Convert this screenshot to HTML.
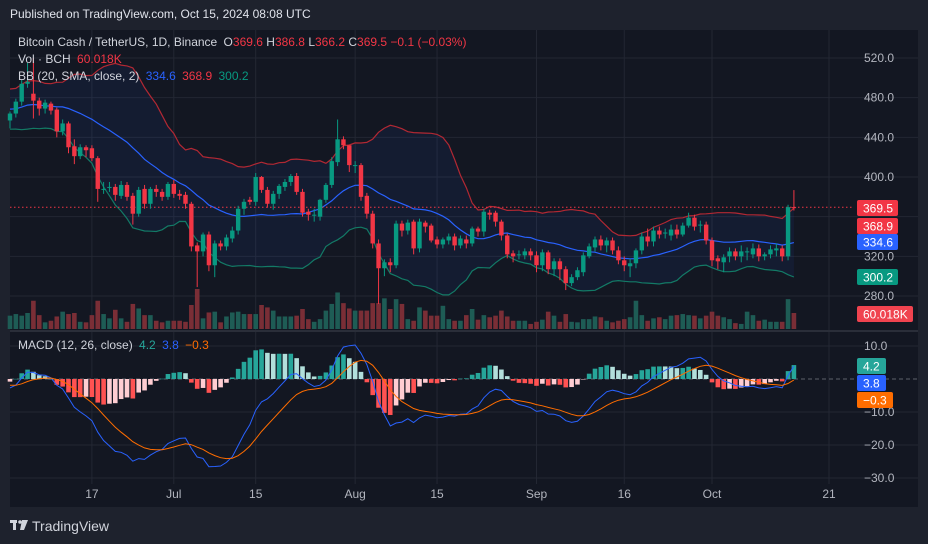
<!DOCTYPE html>
<html><head><meta charset="utf-8"><style>
html,body{margin:0;padding:0;background:#1e222d;width:928px;height:544px;overflow:hidden;font-family:"Liberation Sans",sans-serif}
svg{position:absolute;left:0;top:0}
</style></head><body>
<svg id="c" width="928" height="544">
<rect x="0" y="0" width="928" height="544" fill="#1e222d"/>
<rect x="10" y="30" width="908" height="477" fill="#131722"/>
<text x="10" y="18" fill="#e0e3eb" font-size="12">Published on TradingView.com, Oct 15, 2024 08:08 UTC</text>
<g id="grid"></g><g id="bb"></g><g id="vol"></g><g id="candles"></g><g id="macd"></g><g id="axes"></g>
<line x1="10" y1="331" x2="918" y2="331" stroke="#2a2e39" stroke-width="2"/>
<text x="18" y="46" font-size="12" fill="#d1d4dc">Bitcoin Cash / TetherUS, 1D, Binance <tspan dx="3">O</tspan><tspan fill="#f23645">369.6</tspan> <tspan>H</tspan><tspan fill="#f23645">386.8</tspan> <tspan>L</tspan><tspan fill="#f23645">366.2</tspan> <tspan>C</tspan><tspan fill="#f23645">369.5</tspan> <tspan fill="#f23645">−0.1 (−0.03%)</tspan></text>
<text x="18" y="63" font-size="12" fill="#d1d4dc">Vol · BCH <tspan fill="#f23645" dx="3">60.018K</tspan></text>
<text x="18" y="80" font-size="12" fill="#d1d4dc">BB (20, SMA, close, 2) <tspan fill="#2962ff" dx="3">334.6</tspan> <tspan fill="#f23645" dx="3">368.9</tspan> <tspan fill="#089981" dx="3">300.2</tspan></text>
<text x="18" y="349" font-size="12" fill="#d1d4dc">MACD (12, 26, close) <tspan fill="#26a69a" dx="3">4.2</tspan> <tspan fill="#2962ff" dx="3">3.8</tspan> <tspan fill="#ff6d00" dx="3">−0.3</tspan></text>
<g>
<rect x="10" y="520" width="7" height="3" fill="#d1d4dc"/><rect x="13" y="520" width="3" height="10" fill="#d1d4dc"/>
<circle cx="20" cy="522" r="1.8" fill="#d1d4dc"/><path d="M22 520 L28 520 L24 530 L20 530 Z" fill="#d1d4dc"/>
<text x="32" y="531" font-size="14" fill="#d1d4dc">TradingView</text></g>
</svg>
<script>
const priorCloses=[470,485,500,495,480,465,470,490,505,500,485,470,460,455,465,480,490,475,460,455,462,470,480,488,478,468,460,458,462,470];
const opens=[457,464,476,494,484,477,469,474,468,446,454,431,421,430,429,419,388,390,390,381,392,381,363,388,373,388,385,380,393,383,382,373,331,325,342,311,333,330,338,346,368,377,375,400,387,373,383,390,395,401,385,365,362,360,377,392,415,438,432,412,412,381,363,333,308,314,311,353,346,355,328,354,351,337,332,336,340,331,337,333,348,345,364,364,355,341,323,322,321,325,321,311,324,307,315,307,293,299,304,320,329,337,331,336,326,316,310,313,326,340,335,346,344,341,347,342,351,359,352,352,336,318,314,320,325,320,325,322,328,320,322,326,328,320,369.6];
const closes=[464,476,494,496,477,469,475,467,446,454,430,421,430,427,419,388,388,390,382,392,380,363,387,373,388,385,380,393,383,381,373,330,325,342,311,333,330,339,346,368,375,375,400,387,373,383,391,395,401,385,364,362,362,377,392,416,438,432,412,412,380,363,333,308,314,311,353,346,354,328,355,350,336,332,337,340,331,338,333,348,345,365,362,355,341,322,320,322,325,321,311,324,307,315,307,293,299,306,321,330,337,331,336,326,316,311,313,326,340,335,346,342,344,347,342,351,359,350,352,336,316,315,319,325,320,325,325,328,320,322,327,328,320,369.6,369.5];
const highs=[466,479,498,515,520,480,478,476,470,458,456,438,433,432,432,421,395,395,393,396,395,384,390,392,390,392,388,395,397,387,385,375,334,344,345,336,336,342,350,371,378,380,404,401,390,386,393,398,403,404,388,368,368,378,394,420,458,441,422,416,414,384,366,337,317,318,356,356,357,357,358,356,353,340,339,343,343,341,341,350,350,368,367,366,357,343,326,326,328,328,325,327,326,318,318,310,302,309,324,333,340,341,339,339,330,320,318,328,344,348,350,350,348,352,352,354,364,362,356,355,339,321,322,329,328,331,329,333,332,324,331,333,331,372,386.8];
const lows=[449,460,472,490,459,462,464,463,440,442,424,413,418,420,416,375,383,385,376,378,376,352,360,368,368,380,376,377,379,377,368,325,289,320,305,299,326,326,334,342,362,372,371,384,369,367,378,386,391,382,360,356,355,356,374,389,411,428,405,404,376,358,328,272,300,304,308,340,342,322,324,344,334,328,328,332,326,328,328,330,340,340,357,350,336,318,314,317,317,316,304,305,302,300,296,286,290,296,300,318,325,326,324,322,312,305,299,308,322,330,330,338,338,336,338,340,349,346,344,332,310,307,304,314,316,314,316,318,315,316,318,320,315,316,366.2];
const volumes=[50,56,50,60,106,52,25,31,47,65,56,60,27,25,52,106,56,40,72,40,27,94,77,52,52,31,25,31,31,31,27,90,150,40,62,65,25,47,62,65,56,56,56,90,81,69,47,47,47,50,75,37,27,37,69,94,137,97,77,69,69,69,97,97,115,75,112,94,37,31,81,69,50,50,87,37,31,31,52,75,35,52,44,50,69,47,31,31,31,19,27,35,65,50,27,56,27,25,37,37,47,44,31,25,31,37,44,106,52,31,40,44,37,50,52,56,52,50,40,50,65,50,44,37,22,19,65,52,31,35,27,27,27,112,60.018];
const priceTicks=[520,480,440,400,360,320,280];
const priceTickLabels=["520.0","480.0","440.0","400.0",null,"320.0","280.0"];
const macdTicks=[10,-10,-20,-30];
const dateIdx=[14,28,42,59,73,90,105,120,140];
const dateLabels=["17","Jul","15","Aug","15","Sep","16","Oct","21"];

const NS="http://www.w3.org/2000/svg";
const X=i=>10+i*5.85;
const Y=p=>58+(520-p)*0.9917;
const VY=v=>329-v/3.75;
const MY=m=>379-m*3.3;
function mk(tag,attrs,parent){const e=document.createElementNS(NS,tag);for(const k in attrs)e.setAttribute(k,attrs[k]);parent.appendChild(e);return e;}
const G=id=>document.getElementById(id);

const grid=G('grid');
priceTicks.forEach(p=>{const l=mk('line',{x1:10,x2:918,y1:Y(p),y2:Y(p),stroke:'#232733'},grid);

});
macdTicks.forEach(m=>{const l=mk('line',{x1:10,x2:918,y1:MY(m),y2:MY(m),stroke:'#232733'},grid);

});
dateIdx.forEach(i=>{const l=mk('line',{x1:X(i),x2:X(i),y1:30,y2:484,stroke:'#232733'},grid);

});
{const l=mk('line',{x1:10,x2:918,y1:MY(0),y2:MY(0),stroke:'#5d606b','stroke-dasharray':'4 3'},grid);

}

const all=priorCloses.concat(closes);const P=priorCloses.length;
const up=[],mid=[],lo=[];
for(let k=P;k<all.length;k++){const w=all.slice(k-19,k+1);const m=w.reduce((a,b)=>a+b,0)/20;const sd=Math.sqrt(w.reduce((a,b)=>a+(b-m)*(b-m),0)/20);mid.push(m);up.push(m+2*sd);lo.push(m-2*sd);}
const bb=G('bb');
const pts=a=>a.map((v,i)=>X(i).toFixed(1)+','+Y(v).toFixed(1));
{const f=mk('polygon',{points:pts(up).concat(pts(lo).reverse()).join(' '),fill:'rgba(41,98,255,0.07)'},bb);

}
[[up,'#b22833','bb-upper'],[mid,'#2962ff','bb-basis'],[lo,'#137a66','bb-lower']].forEach(([a,c,n])=>{const l=mk('polyline',{points:pts(a).join(' '),fill:'none',stroke:c,'stroke-width':1.2},bb);

});

{const l=mk('line',{x1:10,x2:852,y1:Y(369.5),y2:Y(369.5),stroke:'#f23645','stroke-dasharray':'1.5 2.5'},bb);

}

const vol=G('vol');
volumes.forEach((v,i)=>{const g=closes[i]>=opens[i];const r=mk('rect',{x:X(i)-2.3,y:VY(v),width:4.6,height:329-VY(v),fill:g?'#1e5c55':'#7a2e36'},vol);

});

const cg=G('candles');
closes.forEach((c,i)=>{const o=opens[i];const g=c>=o;const col=g?'#089981':'#f23645';
const w=mk('line',{x1:X(i),x2:X(i),y1:Y(highs[i]),y2:Y(lows[i]),stroke:col,'stroke-width':1},cg);


const t=Y(Math.max(o,c)),b=Y(Math.min(o,c));
const r=mk('rect',{x:X(i)-2.2,y:t,width:4.4,height:Math.max(1,b-t),fill:col},cg);

});

const ema=(a,n)=>{const k=2/(n+1);const o=[a[0]];for(let i=1;i<a.length;i++)o.push(a[i]*k+o[i-1]*(1-k));return o;};
const e12=ema(all,12),e26=ema(all,26);const macdAll=e12.map((v,i)=>v-e26[i]);const sigAll=ema(macdAll,9);
const macd=macdAll.slice(P),sig=sigAll.slice(P);const hist=macd.map((v,i)=>v-sig[i]);
const mg=G('macd');
hist.forEach((h,i)=>{const prev=i?hist[i-1]:h;let col;if(h>=0)col=h>=prev?'#26a69a':'#b2dfdb';else col=h<prev?'#ff5252':'#ffcdd2';
const y1=MY(Math.max(h,0)),y2=MY(Math.min(h,0));
const r=mk('rect',{x:X(i)-2.3,y:y1,width:4.6,height:Math.max(0.5,y2-y1),fill:col},mg);

});
{const l=mk('polyline',{points:macd.map((v,i)=>X(i).toFixed(1)+','+MY(v).toFixed(1)).join(' '),fill:'none',stroke:'#2962ff','stroke-width':1},mg);

}
{const l=mk('polyline',{points:sig.map((v,i)=>X(i).toFixed(1)+','+MY(v).toFixed(1)).join(' '),fill:'none',stroke:'#ff6d00','stroke-width':1},mg);

}

const ax=G('axes');
priceTicks.forEach((p,i)=>{if(!priceTickLabels[i])return;const t=mk('text',{x:864,y:Y(p)+4,'font-size':12,fill:'#b2b5be'},ax);t.textContent=priceTickLabels[i];

});
[[10,'10.0'],[-10,'−10.0'],[-20,'−20.0'],[-30,'−30.0']].forEach(([m,s])=>{const t=mk('text',{x:864,y:MY(m)+4,'font-size':12,fill:'#b2b5be'},ax);t.textContent=s;

});
dateIdx.forEach((i,k)=>{const t=mk('text',{x:X(i),y:498,'font-size':12,fill:'#b2b5be','text-anchor':'middle'},ax);t.textContent=dateLabels[k];

});
[[208,'369.5','#f23645',41],[226,'368.9','#f23645',41],[242,'334.6','#2962ff',41],[277,'300.2','#089981',41],[314,'60.018K','#f0434f',56],[366,'4.2','#26a69a',29],[383,'3.8','#2962ff',29],[400,'−0.3','#ff6d00',36]].forEach(([y,s,c,w])=>{
const r=mk('rect',{x:857,y:y-8,width:w,height:16,rx:2,fill:c},ax);


const t=mk('text',{x:863,y:y+4.5,'font-size':12,fill:'#ffffff'},ax);t.textContent=s;

});
</script>
</body></html>
